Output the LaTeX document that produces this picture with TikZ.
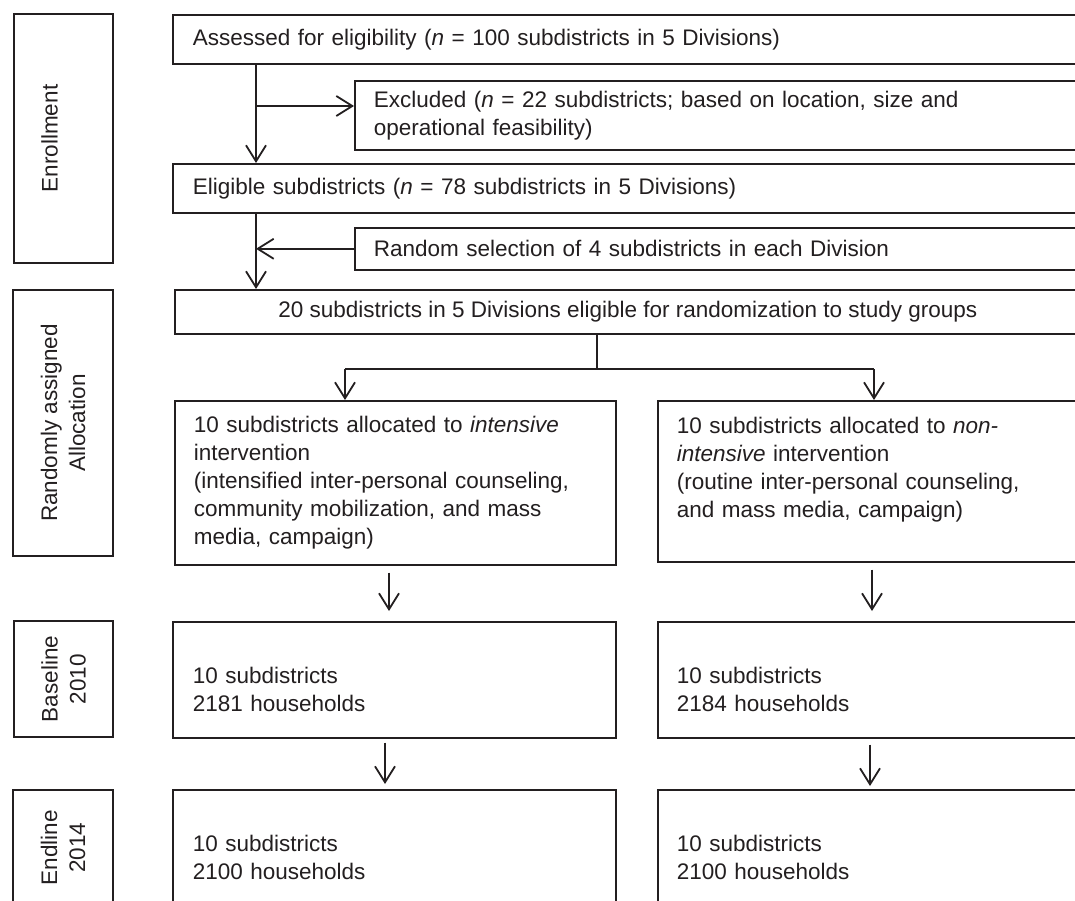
\documentclass[tikz,border=0pt]{standalone}
\usepackage{fontspec}
\setmainfont{Liberation Sans}
\usetikzlibrary{arrows.meta}
\definecolor{ink}{HTML}{231F20}
\begin{document}
\begin{tikzpicture}[x=1pt,y=-1pt,
  every node/.style={font=\fontsize{22.5}{28}\selectfont, text=ink},
  box/.style={draw=ink, line width=1.6pt, anchor=north west, inner sep=0pt, align=left},
  side/.style={draw=ink, line width=1.6pt, rotate=90, inner sep=0pt, align=center},
  arr/.style={draw=ink, line width=1.8pt, -{Straight Barb[length=16pt,width=20pt,line width=1.8pt]}},
  thin/.style={draw=ink, line width=1.1pt}]
\clip (0,0) rectangle (1075,901);
\fill[white] (0,0) rectangle (1075,901);
% side labels
\node[side, minimum width=249pt, minimum height=99pt] (enr) at (63.5,138.5) {Enrollment\\\mbox{}};
\node[side, minimum width=266pt, minimum height=100pt] (alloc) at (63,423) {Randomly assigned\\Allocation};
\node[side, minimum width=116pt, minimum height=99pt] (base) at (63.5,679) {Baseline\\2010};
\node[side, minimum width=115pt, minimum height=100pt] (endl) at (63,847.5) {Endline\\2014};
% main boxes
\node[box, minimum width=908pt, minimum height=49pt, text width=868pt] (assess) at (172,14)
  {Assessed for eligibility (\textit{n} = 100 subdistricts in 5 Divisions)};
\node[box, minimum width=726pt, minimum height=69pt, text width=688pt] (excl) at (354,80)
  {Excluded (\textit{n} = 22 subdistricts; based on location, size and\\operational feasibility)};
\node[box, minimum width=908pt, minimum height=49pt, text width=868pt] (elig) at (172,163)
  {Eligible subdistricts (\textit{n} = 78 subdistricts in 5 Divisions)};
\node[box, minimum width=726pt, minimum height=42pt, text width=688pt] (rand) at (354,227)
  {Random selection of 4 subdistricts in each Division};
\node[box, align=center, minimum width=906pt, minimum height=44pt] (twenty) at (174,289)
  {20 subdistricts in 5 Divisions eligible for randomization to study groups};
\node[box, minimum width=441pt, minimum height=164pt, text width=403pt] (inten) at (174,400)
  {10 subdistricts allocated to \textit{intensive}\\intervention\\(intensified inter-personal counseling,\\community mobilization, and mass\\media, campaign)};
\node[box, minimum width=423pt, minimum height=161pt, text width=385pt] (nonint) at (657,400)
  {10 subdistricts allocated to \textit{non-}\\\textit{intensive} intervention\\(routine inter-personal counseling,\\and mass media, campaign)\\\mbox{}};
\node[box, minimum width=443pt, minimum height=116pt, text width=403pt] (basel) at (172,621)
  {\rule{0pt}{36pt}10 subdistricts\\2181 households};
\node[box, minimum width=423pt, minimum height=116pt, text width=385pt] (baser) at (657,621)
  {\rule{0pt}{36pt}10 subdistricts\\2184 households};
\node[box, minimum width=443pt, minimum height=116pt, text width=403pt] (endll) at (172,789)
  {\rule{0pt}{36pt}10 subdistricts\\2100 households};
\node[box, minimum width=423pt, minimum height=116pt, text width=385pt] (endlr) at (657,789)
  {\rule{0pt}{36pt}10 subdistricts\\2100 households};
% coordinates
\coordinate (t) at (256,0);
\coordinate (b1) at (256,106);
\coordinate (sx) at (597,0);
\coordinate (sy) at (0,369);
\coordinate (la) at (345,0);
\coordinate (ra) at (874,0);
\coordinate (l1) at (389,0);
\coordinate (l2) at (385,0);
\coordinate (r1) at (872,0);
\coordinate (r2) at (870,0);
% connectors
\draw[arr] (assess.south -| t) -- (elig.north -| t);
\draw[arr] (b1) -- (b1 -| excl.west);
\draw[arr] (elig.south -| t) -- (twenty.north -| t);
\draw[arr] (rand.west) -- (rand.west -| t);
\draw[thin] (twenty.south -| sx) -- (sx |- sy);
\draw[thin] (la |- sy) -- (ra |- sy);
\draw[arr] (la |- sy) -- (inten.north -| la);
\draw[arr] (ra |- sy) -- (nonint.north -| ra);
\draw[arr, shorten <=7pt, shorten >=10pt] (inten.south -| l1) -- (basel.north -| l1);
\draw[arr, shorten <=7pt, shorten >=10pt] (nonint.south -| r1) -- (baser.north -| r1);
\draw[arr, shorten <=4pt, shorten >=5pt] (basel.south -| l2) -- (endll.north -| l2);
\draw[arr, shorten <=6pt, shorten >=3pt] (baser.south -| r2) -- (endlr.north -| r2);
\end{tikzpicture}
\end{document}
